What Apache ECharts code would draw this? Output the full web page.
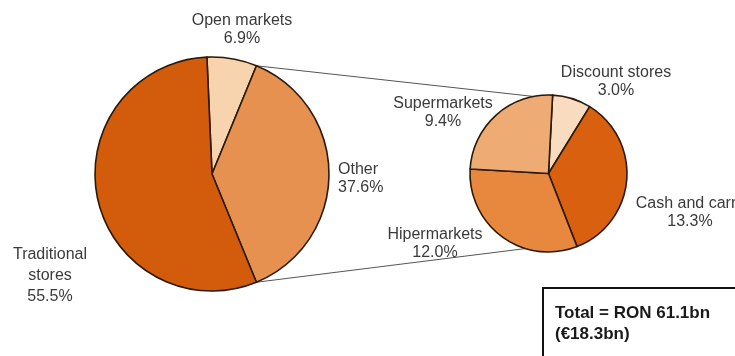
<!DOCTYPE html>
<html>
<head>
<meta charset="utf-8">
<script src="https://cdn.jsdelivr.net/npm/echarts@6/dist/echarts.min.js"></script>
<style>
html,body{margin:0;padding:0;background:#fff;}
#c{width:735px;height:356px;}
</style>
</head>
<body>
<div id="c"></div>
<script>
// ---- data ----
const mainCats = ['Open markets', 'Other', 'Traditional\nstores'];
const mainVals = [6.9, 37.6, 55.5];
const subCats = ['Discount stores', 'Cash and carry', 'Hipermarkets', 'Supermarkets'];
const subVals = [3.0, 13.3, 12.0, 9.4];
const totalLines = ['Total = RON 61.1bn', '(€18.3bn)'];

// ---- layout / style ----
const mainColors = ['#f7d3ae', '#e6914f', '#d35c0c'];
const subColors = ['#f9dcc0', '#d9600f', '#e8873e', '#eeac74'];
const MAIN = {cx: 212, cy: 174, r: 117, start: 92.5};
const SUB = {cx: 548.5, cy: 173.5, r: 78.5, start: 87};
const mainLabelPos = [
  {x: 242, y: 30, align: 'center'},
  {x: 338, y: 179, align: 'left'},
  {x: 50, y: 276, align: 'center'}
];
const subLabelPos = [
  {x: 616, y: 82, align: 'center'},
  {x: 690, y: 213, align: 'center'},
  {x: 435, y: 244, align: 'center'},
  {x: 443, y: 113, align: 'center'}
];
const TEXT = '#3a3a3a';
const FONT = 'Liberation Sans, Arial, sans-serif';

function ptOn(p, degCw) {
  const a = degCw * Math.PI / 180;
  return [p.cx + p.r * Math.sin(a), p.cy - p.r * Math.cos(a)];
}
const mainTotal = mainVals.reduce((s, v) => s + v, 0);
const otherStartCum = mainVals[0];
const otherEndCum = mainVals[0] + mainVals[1];
const mainA0 = 90 - MAIN.start;
const pTop = ptOn(MAIN, mainA0 + otherStartCum / mainTotal * 360);
const pBot = ptOn(MAIN, mainA0 + otherEndCum / mainTotal * 360);
const sTop = ptOn(SUB, -11);
const sBot = ptOn(SUB, 197);

function fmt(p) { return p.name + '\n' + p.value.toFixed(1) + '%'; }

const baseSeries = {
  type: 'pie',
  silent: true,
  avoidLabelOverlap: false,
  clockwise: true,
  label: {
    show: true, position: 'outside', formatter: fmt,
    color: TEXT, fontSize: 16, lineHeight: 18, fontFamily: FONT
  },
  labelLine: {show: false},
  itemStyle: {borderColor: '#2b1a0c', borderWidth: 1.6},
  emphasis: {disabled: true}
};

const chart = echarts.init(document.getElementById('c'), null, {renderer: 'canvas'});
chart.setOption({
  animation: false,
  backgroundColor: '#ffffff',
  series: [
    Object.assign({}, baseSeries, {
      name: 'main',
      center: [MAIN.cx, MAIN.cy],
      radius: [0, MAIN.r],
      startAngle: MAIN.start,
      data: mainCats.map((n, i) => ({
        name: n, value: mainVals[i],
        itemStyle: {color: mainColors[i]},
        label: i === 2 ? {lineHeight: 21} : {}
      })),
      labelLayout: p => {
        const q = mainLabelPos[p.dataIndex];
        return {x: q.x, y: q.y, align: q.align, verticalAlign: 'middle', hideOverlap: false};
      }
    }),
    Object.assign({}, baseSeries, {
      name: 'sub',
      center: [SUB.cx, SUB.cy],
      radius: [0, SUB.r],
      startAngle: SUB.start,
      data: subCats.map((n, i) => ({
        name: n, value: subVals[i],
        itemStyle: {color: subColors[i]}
      })),
      labelLayout: p => {
        const q = subLabelPos[p.dataIndex];
        return {x: q.x, y: q.y, align: q.align, verticalAlign: 'middle', hideOverlap: false};
      }
    })
  ],
  graphic: [
    {type: 'line', z: -1, shape: {x1: pTop[0], y1: pTop[1], x2: sTop[0], y2: sTop[1]},
     style: {stroke: '#555', lineWidth: 1}},
    {type: 'line', z: -1, shape: {x1: pBot[0], y1: pBot[1], x2: sBot[0], y2: sBot[1]},
     style: {stroke: '#555', lineWidth: 1}},
    {type: 'rect', shape: {x: 543, y: 288, width: 230, height: 100},
     style: {fill: '#fff', stroke: '#111', lineWidth: 2}},
    {type: 'text', x: 555, y: 313,
     style: {text: totalLines[0], fill: '#1a1a1a', font: 'bold 17px ' + FONT, verticalAlign: 'middle'}},
    {type: 'text', x: 555, y: 334,
     style: {text: totalLines[1], fill: '#1a1a1a', font: 'bold 17px ' + FONT, verticalAlign: 'middle'}}
  ]
});
</script>
</body>
</html>
